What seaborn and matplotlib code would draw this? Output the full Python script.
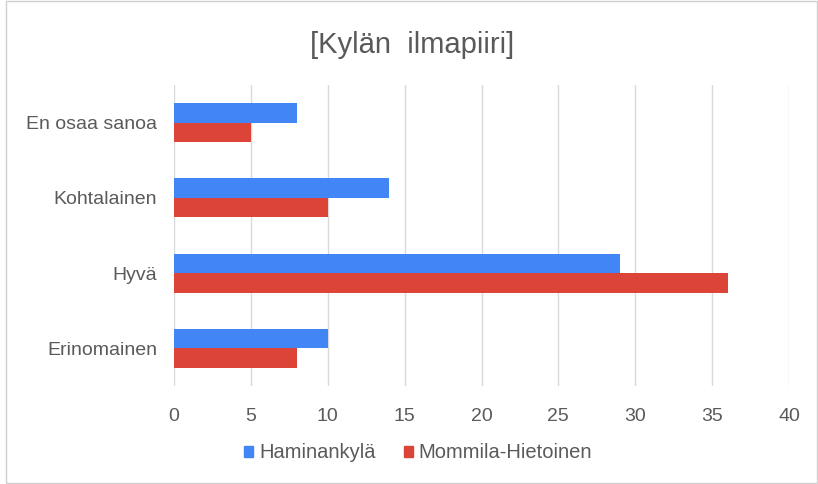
import matplotlib
matplotlib.use("Agg")
import matplotlib.pyplot as plt
import seaborn as sns
import pandas as pd
from matplotlib.patches import Rectangle

categories = ["En osaa sanoa", "Kohtalainen", "Hyvä", "Erinomainen"]
haminankyla = [8, 14, 29, 10]
mommila = [5, 10, 36, 8]
series_names = ["Haminankylä", "Mommila-Hietoinen"]
x_ticks = [0, 5, 10, 15, 20, 25, 30, 35, 40]

df = pd.DataFrame({
    "Kategoria": categories * 2,
    "Arvo": haminankyla + mommila,
    "Sarja": [series_names[0]] * len(categories) + [series_names[1]] * len(categories),
})

sns.set_style("white")
plt.rcParams["font.family"] = ["Liberation Sans", "DejaVu Sans"]

fig = plt.figure(figsize=(8.18, 4.84), dpi=100)
ax = fig.add_axes([174/818, 1-386/484, (789-174)/818, (386-85)/484])

palette = {series_names[0]: "#4285f4", series_names[1]: "#db4437"}
sns.barplot(data=df, y="Kategoria", x="Arvo", hue="Sarja", order=categories,
            hue_order=series_names, palette=palette, orient="h", width=0.52,
            saturation=1, linewidth=0, ax=ax, legend=False)

ax.set_xlim(0, 40)
ax.set_xticks(x_ticks)
ax.set_xlabel("")
ax.set_ylabel("")
ax.grid(axis="x", color="#d9d9d9", linewidth=1)
ax.set_axisbelow(True)
for s in ax.spines.values():
    s.set_visible(False)
ax.tick_params(axis="both", length=0, labelsize=14, labelcolor="#5a5a5a")
ax.tick_params(axis="x", pad=16)
ax.tick_params(axis="y", pad=12)

fig.text(412/818, 1-45/484, "[Kylän  ilmapiiri]", ha="center", va="center",
         fontsize=21, color="#595959")

# legend
handles = [Rectangle((0, 0), 1, 1, color=palette[n]) for n in series_names]
fig.legend(handles, series_names, loc="center", bbox_to_anchor=(418/818, 1-453/484),
           ncol=2, frameon=False, fontsize=14.5, handlelength=0.45, handleheight=0.45,
           handletextpad=0.3, columnspacing=1.4, labelcolor="#5a5a5a")

fig.patches.append(Rectangle((6/818, 0.002), 1-7/818, 0.996, transform=fig.transFigure,
                             fill=False, edgecolor="#d0d0d0", linewidth=1))

fig.savefig("out.png", dpi=100)
